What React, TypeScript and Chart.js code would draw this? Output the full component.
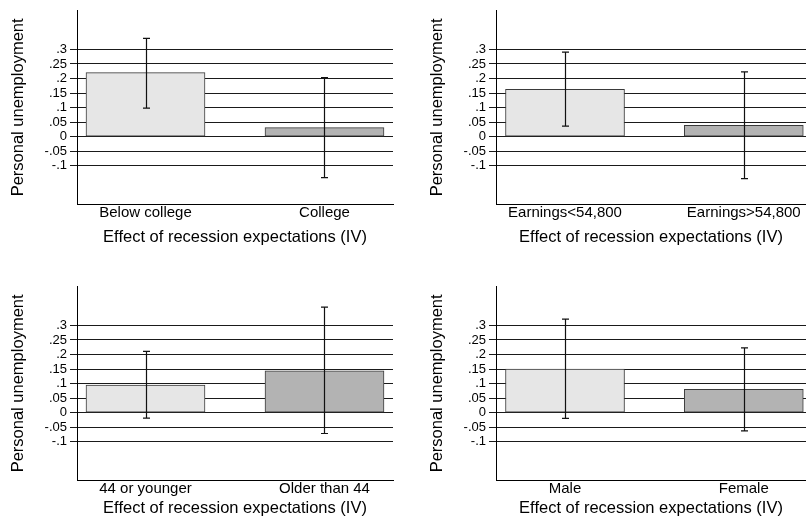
import React, { useEffect, useRef } from "react";
import { Chart, registerables } from "chart.js";

Chart.register(...registerables);

// ---- data ----
const CATS_EDU = ["Below college", "College"];
const VAL_EDU = [0.22, 0.031];
const LO_EDU = [0.098, -0.141];
const HI_EDU = [0.338, 0.203];

const CATS_EARN = ["Earnings<54,800", "Earnings>54,800"];
const VAL_EARN = [0.163, 0.039];
const LO_EARN = [0.036, -0.145];
const HI_EARN = [0.291, 0.223];

const CATS_AGE = ["44 or younger", "Older than 44"];
const VAL_AGE = [0.095, 0.144];
const LO_AGE = [-0.019, -0.072];
const HI_AGE = [0.211, 0.363];

const CATS_SEX = ["Male", "Female"];
const VAL_SEX = [0.15, 0.08];
const LO_SEX = [-0.02, -0.063];
const HI_SEX = [0.322, 0.223];

const Y_TICKS = [-0.1, -0.05, 0, 0.05, 0.1, 0.15, 0.2, 0.25, 0.3];
const Y_TICK_LABELS = ["-.1", "-.05", "0", ".05", ".1", ".15", ".2", ".25", ".3"];
const Y_TITLE = "Personal unemployment";
const X_TITLE = "Effect of recession expectations (IV)";

const FONT = "'Liberation Sans', Arial, Helvetica, sans-serif";
const BAR_COLORS = ["#e6e6e6", "#b3b3b3"];

type PanelProps = {
  cats: string[];
  vals: number[];
  lo: number[];
  hi: number[];
  left: number;
  top: number;
  width: number;
  height: number;
  xMin: number;
  xMax: number;
  padRight: number;
  xAxisHeight: number;
  titlePadBottom: number;
};

const errorBarPlugin = {
  id: "errorBars",
  afterDatasetsDraw(chart: any, _args: any, opts: any) {
    const { ctx, scales } = chart;
    const xs = scales.x;
    const ys = scales.y;
    const lo: number[] = opts.lo || [];
    const hi: number[] = opts.hi || [];
    ctx.save();
    ctx.strokeStyle = "#111";
    ctx.lineWidth = 1.2;
    for (let i = 0; i < lo.length; i++) {
      const x = Math.round(xs.getPixelForValue(i + 1)) + 0.5;
      const y1 = ys.getPixelForValue(lo[i]);
      const y2 = ys.getPixelForValue(hi[i]);
      const cap = 3.5;
      ctx.beginPath();
      ctx.moveTo(x, y1);
      ctx.lineTo(x, y2);
      ctx.moveTo(x - cap, y1);
      ctx.lineTo(x + cap, y1);
      ctx.moveTo(x - cap, y2);
      ctx.lineTo(x + cap, y2);
      ctx.stroke();
    }
    ctx.restore();
  },
};

function Panel(p: PanelProps) {
  const ref = useRef<HTMLCanvasElement | null>(null);
  useEffect(() => {
    if (!ref.current) return;
    const chart = new Chart(ref.current, {
      type: "bar",
      data: {
        datasets: [
          {
            data: p.vals.map((v, i) => ({ x: i + 1, y: v })),
            backgroundColor: BAR_COLORS,
            borderColor: "#3a3a3a",
            borderWidth: 1,
            borderSkipped: false,
            barThickness: 119,
          },
        ],
      },
      options: {
        animation: false,
        responsive: false,
        maintainAspectRatio: false,
        layout: { padding: { top: 8, left: 0, right: p.padRight, bottom: 0 } },
        plugins: {
          legend: { display: false },
          tooltip: { enabled: false },
          errorBars: { lo: p.lo, hi: p.hi },
        } as any,
        scales: {
          x: {
            type: "linear",
            offset: false,
            min: p.xMin,
            max: p.xMax,
            grid: { display: false, drawTicks: false, offset: false },
            border: { display: true, color: "#000", width: 1 },
            afterBuildTicks: (s: any) => {
              s.ticks = p.cats.map((_, i) => ({ value: i + 1 }));
            },
            afterFit: (s: any) => {
              s.height = p.xAxisHeight;
            },
            ticks: {
              autoSkip: false,
              maxRotation: 0,
              padding: 0,
              color: "#000",
              font: { family: FONT, size: 15 },
              callback: (v: any) => p.cats[Math.round(Number(v)) - 1] ?? "",
            },
            title: {
              display: true,
              text: X_TITLE,
              color: "#000",
              font: { family: FONT, size: 16.5 },
              padding: { top: 0, bottom: p.titlePadBottom },
            },
          },
          y: {
            type: "linear",
            min: -0.232,
            max: 0.433,
            grid: { display: true, color: "#1a1a1a", lineWidth: 1, drawTicks: true, tickLength: 7 },
            border: { display: true, color: "#000", width: 1 },
            afterBuildTicks: (s: any) => {
              s.ticks = Y_TICKS.map((v) => ({ value: v }));
            },
            afterFit: (s: any) => {
              s.width = 77;
            },
            ticks: {
              autoSkip: false,
              padding: 3,
              color: "#000",
              font: { family: FONT, size: 13 },
              callback: (v: any) => {
                const idx = Y_TICKS.findIndex((t) => Math.abs(t - Number(v)) < 1e-9);
                return idx >= 0 ? Y_TICK_LABELS[idx] : "";
              },
            },
            title: {
              display: true,
              text: Y_TITLE,
              color: "#000",
              font: { family: FONT, size: 16.5 },
              padding: { top: 9, bottom: 0 },
            },
          },
        },
      } as any,
      plugins: [errorBarPlugin],
    });
    return () => chart.destroy();
  }, []);
  return (
    <div style={{ position: "absolute", left: p.left, top: p.top, width: p.width, height: p.height }}>
      <canvas ref={ref} width={p.width} height={p.height} style={{ display: "block" }} />
    </div>
  );
}

export default function App() {
  return (
    <div style={{ position: "fixed", left: 0, top: 0, width: 806, height: 521, background: "#fff", overflow: "hidden" }}>
      <Panel cats={CATS_EDU} vals={VAL_EDU} lo={LO_EDU} hi={HI_EDU}
        left={0} top={0} width={400} height={260} xMin={0.6173} xMax={2.3827} padRight={7} xAxisHeight={56} titlePadBottom={13} />
      <Panel cats={CATS_EARN} vals={VAL_EARN} lo={LO_EARN} hi={HI_EARN}
        left={419} top={0} width={387} height={260} xMin={0.614} xMax={2.348} padRight={0} xAxisHeight={56} titlePadBottom={13} />
      <Panel cats={CATS_AGE} vals={VAL_AGE} lo={LO_AGE} hi={HI_AGE}
        left={0} top={276} width={400} height={245} xMin={0.6173} xMax={2.3827} padRight={7} xAxisHeight={41} titlePadBottom={3} />
      <Panel cats={CATS_SEX} vals={VAL_SEX} lo={LO_SEX} hi={HI_SEX}
        left={419} top={276} width={387} height={245} xMin={0.614} xMax={2.348} padRight={0} xAxisHeight={41} titlePadBottom={3} />
    </div>
  );
}
